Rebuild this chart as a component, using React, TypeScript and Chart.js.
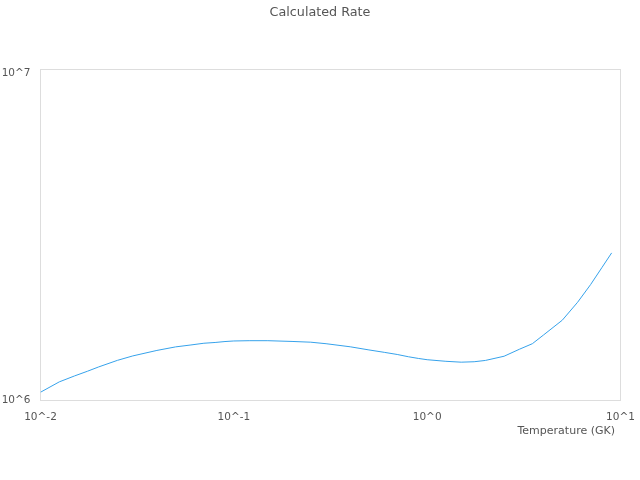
import React, { useEffect, useRef } from 'react';
import Chart from 'chart.js/auto';

// temperature grid (GK) and calculated rate
const temperatures = [
  0.01, 0.0125, 0.015, 0.0175, 0.02, 0.025, 0.03, 0.04, 0.05, 0.06, 0.07, 0.08, 0.09,
  0.1, 0.12, 0.15, 0.2, 0.25, 0.3, 0.4, 0.5, 0.6, 0.7, 0.8, 0.9,
  1, 1.25, 1.5, 1.75, 2, 2.5, 3, 3.5, 4, 5, 6, 7, 8, 9,
];
const rates = [
  1.060e6, 1.140e6, 1.189e6, 1.229e6, 1.267e6, 1.327e6, 1.369e6, 1.423e6, 1.459e6, 1.479e6, 1.497e6, 1.505e6, 1.515e6,
  1.521e6, 1.524e6, 1.524e6, 1.516e6, 1.508e6, 1.492e6, 1.460e6, 1.428e6, 1.404e6, 1.383e6, 1.361e6, 1.345e6,
  1.333e6, 1.318e6, 1.310e6, 1.314e6, 1.326e6, 1.366e6, 1.435e6, 1.492e6, 1.587e6, 1.761e6, 1.998e6, 2.262e6, 2.547e6, 2.829e6,
];
const xTickValues = [0.01, 0.1, 1, 10];
const yTickValues = [1e6, 1e7];

const FONT = "'DejaVu Sans', sans-serif";
const TEXT = '#555';

const powerLabel = (v: number) => '10^' + Math.round(Math.log10(v));

const framePlugin = {
  id: 'frame',
  beforeDatasetsDraw(chart: any) {
    const { ctx, chartArea } = chart;
    const { left, top, right, bottom } = chartArea;
    ctx.save();
    ctx.strokeStyle = '#dddddd';
    ctx.lineWidth = 1;
    ctx.strokeRect(left, top, right - left, bottom - top);
    ctx.restore();
  },
};

const RateChart: React.FC = () => {
  const canvasRef = useRef<HTMLCanvasElement>(null);
  const chartRef = useRef<Chart | null>(null);

  useEffect(() => {
    if (!canvasRef.current) return;
    if (chartRef.current) chartRef.current.destroy();

    chartRef.current = new Chart(canvasRef.current, {
      type: 'line',
      data: {
        datasets: [
          {
            label: 'Rate',
            data: temperatures.map((t, i) => ({ x: t, y: rates[i] })),
            borderColor: 'rgb(54, 162, 235)',
            borderWidth: 1,
            pointRadius: 0,
            tension: 0,
            fill: false,
          },
        ],
      },
      options: {
        responsive: false,
        animation: false,
        layout: { padding: { left: 0, right: 0, top: 0, bottom: 34.5 } },
        plugins: {
          legend: { display: false },
          tooltip: { enabled: false },
          title: {
            display: true,
            text: 'Calculated Rate',
            color: TEXT,
            font: { family: FONT, size: 12.75, weight: 'normal' },
            padding: { top: 5, bottom: 49.2 },
          },
        },
        scales: {
          x: {
            type: 'logarithmic',
            min: 0.01,
            max: 10,
            grid: { display: false },
            border: { display: false },
            afterBuildTicks: (scale: any) => {
              scale.ticks = xTickValues.map((v) => ({ value: v }));
            },
            afterFit: (scale: any) => {
              scale.height = 45;
            },
            ticks: {
              autoSkip: false,
              maxRotation: 0,
              padding: 2,
              color: TEXT,
              font: { family: FONT, size: 10.5 },
              callback: (v: any) => powerLabel(Number(v)),
            },
            title: {
              display: true,
              text: 'Temperature (GK)\u2002',
              align: 'end',
              color: TEXT,
              font: { family: FONT, size: 11 },
              padding: { top: 0, bottom: 8 },
            },
          },
          y: {
            type: 'logarithmic',
            min: 1e6,
            max: 1.03e7,
            grid: { display: false },
            border: { display: false },
            afterBuildTicks: (scale: any) => {
              scale.ticks = yTickValues.map((v) => ({ value: v }));
            },
            afterFit: (scale: any) => {
              scale.width = 40.5;
            },
            ticks: {
              autoSkip: false,
              padding: 2,
              crossAlign: 'near',
              color: TEXT,
              font: { family: FONT, size: 10.5 },
              callback: (v: any) => powerLabel(Number(v)),
            },
          },
          // empty right-hand axis that only reserves the gap on the right
          yRight: {
            type: 'linear',
            position: 'right',
            display: true,
            min: 0,
            max: 1,
            grid: { display: false },
            border: { display: false },
            ticks: { display: false },
            afterFit: (scale: any) => {
              scale.width = 19.5;
            },
          },
        },
      },
      plugins: [framePlugin],
    } as any);

    return () => {
      if (chartRef.current) {
        chartRef.current.destroy();
        chartRef.current = null;
      }
    };
  }, []);

  return <canvas ref={canvasRef} width={640} height={480} />;
};

export default function App() {
  return (
    <div style={{ position: 'absolute', left: 0, top: 0, width: 640, height: 480, background: '#fff' }}>
      <RateChart />
    </div>
  );
}
